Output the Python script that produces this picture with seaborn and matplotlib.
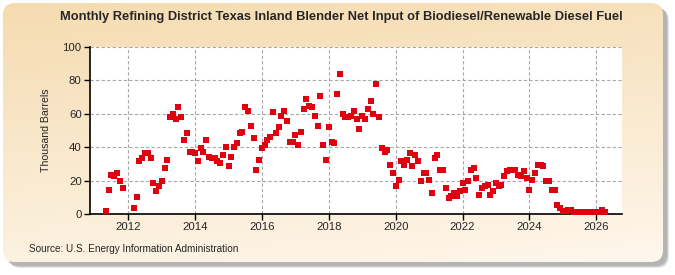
import numpy as np
import pandas as pd
import seaborn as sns
import matplotlib
matplotlib.use("Agg")
import matplotlib.pyplot as plt
import matplotlib.dates as mdates
from matplotlib.patches import FancyBboxPatch

# monthly values, thousand barrels, starting May 2011 (nan = no data)
start_month = "2011-05-01"
v2011 = [2, 14.6, 23.4, 23, 24.6, 19.8, 15.8, np.nan]
v2012 = [np.nan, np.nan, 3.8, 10, 32, 33.8, 36.8, 36.8, 33.8, 18.6, 14, 17]
v2013 = [19.8, 27.8, 32.6, 57.8, 59.6, 56.6, 64.2, 57.8, 44.6, 48.8, 37.4, 37.4]
v2014 = [36.8, 32, 39.8, 37.4, 44.6, 34.4, 33.8, 33.8, 32, 30.8, 35.6, 40.4]
v2015 = [29, 34.4, 40.4, 42.8, 48.8, 49.4, 63.8, 61.4, 52.4, 45.8, 26.6, 32.6]
v2016 = [39.8, 41.6, 44.6, 46.4, 60.8, 48.8, 51.8, 58.4, 61.4, 55.4, 43.4, 43.4]
v2017 = [47.6, 41.6, 49.4, 62.6, 68.6, 64.4, 63.8, 58.4, 52.4, 70.4, 41.6, 32.6]
v2018 = [51.8, 43.4, 42.8, 71.6, 83.6, 59.6, 57.8, 57.8, 58.4, 61.4, 56.6, 50.6]
v2019 = [58.4, 56.6, 62.6, 67.4, 59.6, 77.6, 57.8, 39.8, 37.4, 38.6, 29.6, 24.8]
v2020 = [17, 20.6, 32, 29.6, 32.6, 36.8, 29, 35.6, 32, 20, 24.8, 24.8]
v2021 = [20.6, 12.8, 33.8, 35.6, 26.6, 26.6, 15.8, 9.8, 11, 12.8, 11, 14]
v2022 = [18.8, 14.6, 20, 26.6, 27.8, 21.8, 11.6, 15.8, 17, 17.6, 11.6, 14]
v2023 = [18.8, 17, 17.6, 23, 26, 26.6, 26.6, 26.6, 23.6, 23, 26, 21.8]
v2024 = [14.6, 20.6, 24.8, 29.6, 29.6, 29, 20, 20, 14.6, 14.6, 5.6, 3.8]
v2025 = [2, 2, 2.6, 2.6, 0.8, 1, 1, 1, 1, 1, 1, 1]
v2026 = [1, 1, 2.2, 1]

values = (v2011 + v2012 + v2013 + v2014 + v2015 + v2016 + v2017 + v2018
          + v2019 + v2020 + v2021 + v2022 + v2023 + v2024 + v2025 + v2026)
dates = pd.date_range(start_month, periods=len(values), freq="MS")
df = pd.DataFrame({"date": dates, "value": values}).dropna()

year_ticks = [2012, 2014, 2016, 2018, 2020, 2022, 2024, 2026]

sns.set_style("white")
plt.rcParams["font.family"] = ["Liberation Sans", "DejaVu Sans"]

W, H = 675, 275
fig = plt.figure(figsize=(W / 100, H / 100), dpi=100)
fig.patch.set_facecolor("white")

# background panel with rounded corners, soft shadow and beige gradient
bg = fig.add_axes([0, 0, 1, 1], zorder=-10)
bg.set_xlim(0, W)
bg.set_ylim(0, H)
bg.axis("off")
for off, a in [(6, 0.25), (5, 0.35), (4, 0.45)]:
    bg.add_patch(FancyBboxPatch((3 + off, 13 - off), 660, 259,
                                boxstyle="round,pad=0,rounding_size=12",
                                facecolor="#9a9a9a", edgecolor="none", alpha=a,
                                zorder=0))
panel = FancyBboxPatch((3, 13), 660, 259, boxstyle="round,pad=0,rounding_size=12",
                       facecolor="none", edgecolor="none")
bg.add_patch(panel)
top = np.array([245, 219, 176]) / 255
bot = np.array([254, 247, 236]) / 255
yy, xx = np.mgrid[0:1:100j, 0:1:100j]
t = np.clip(0.8 * yy + 0.2 * (1 - xx), 0, 1)[..., None]
grad = bot + (top - bot) * t
img = bg.imshow(grad, extent=(3, 663, 13, 272), origin="lower", aspect="auto",
                interpolation="bilinear", zorder=2)
img.set_clip_path(panel)

ax = fig.add_axes([90 / W, 61 / H, 532 / W, 167 / H])
ax.set_facecolor("white")
sns.scatterplot(data=df, x="date", y="value", marker="s", s=15, color="#e0000f",
                linewidth=0, ax=ax, zorder=3)

ax.set_ylim(0, 100)
ax.set_yticks([0, 20, 40, 60, 80, 100])
ax.set_xlim(pd.Timestamp("2010-11-10"), pd.Timestamp("2026-10-08"))
ax.set_xticks([pd.Timestamp(f"{y}-01-01") for y in year_ticks])
ax.xaxis.set_major_formatter(mdates.DateFormatter("%Y"))
ax.grid(True, color="#a8a8a8", linestyle=(0, (3, 2)), linewidth=0.8)
ax.set_axisbelow(True)
for side in ["top", "right"]:
    ax.spines[side].set_visible(False)
for side in ["left", "bottom"]:
    ax.spines[side].set_color("black")
    ax.spines[side].set_linewidth(1.2)
ax.tick_params(axis="both", labelsize=8.2, length=4, width=1, color="black",
               direction="out", bottom=True, left=True, pad=2)
ax.set_xlabel("")
ax.set_ylabel("Thousand Barrels", fontsize=7.6, labelpad=8)

fig.text(341 / W, 1 - 17 / H,
         "Monthly Refining District Texas Inland Blender Net Input of Biodiesel/Renewable Diesel Fuel",
         ha="center", va="center", fontsize=9.3, fontweight="bold")
fig.text(29 / W, 1 - 249 / H, "Source: U.S. Energy Information Administration",
         ha="left", va="center", fontsize=7.2)

fig.savefig("out.png", dpi=100)
